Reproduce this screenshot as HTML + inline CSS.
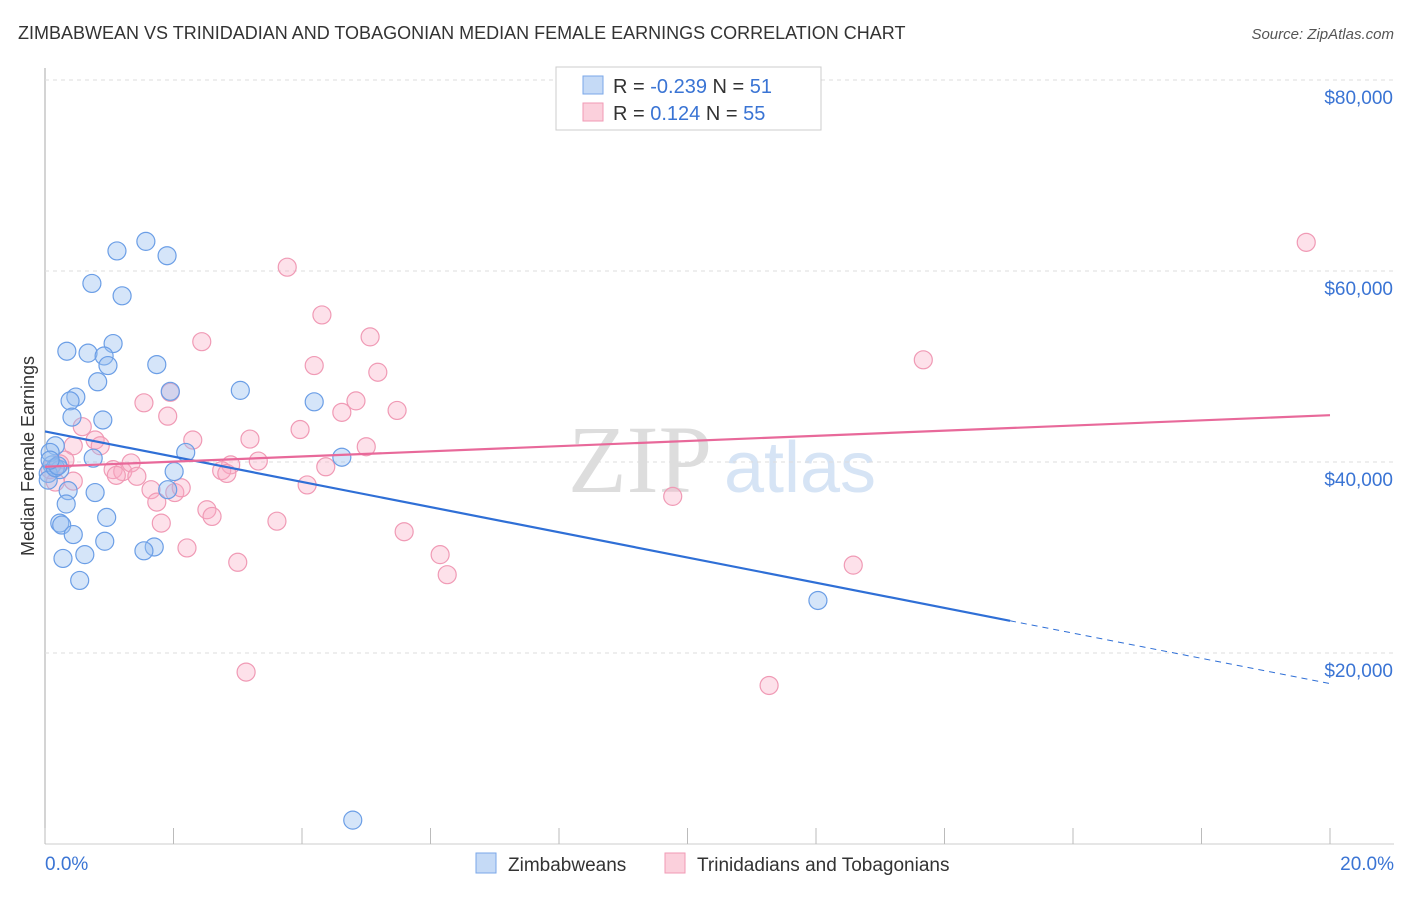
<!DOCTYPE html>
<html><head><meta charset="utf-8"><style>
body{margin:0;background:#fff;font-family:"Liberation Sans",sans-serif}
</style></head><body>
<svg id="c" width="1406" height="892" xmlns="http://www.w3.org/2000/svg" style="font-family:'Liberation Sans',sans-serif">
<text x="18" y="39" font-size="18" fill="#333">ZIMBABWEAN VS TRINIDADIAN AND TOBAGONIAN MEDIAN FEMALE EARNINGS CORRELATION CHART</text>
<text x="1394" y="39" font-size="15" fill="#555" font-style="italic" text-anchor="end">Source: ZipAtlas.com</text>
<text x="34" y="456" font-size="18" fill="#333" text-anchor="middle" transform="rotate(-90 34 456)">Median Female Earnings</text>
<g><text x="640" y="492" font-size="96" fill="#ddd" font-family="Liberation Serif" text-anchor="middle">ZIP</text><text x="800" y="492" font-size="72" fill="#d6e4f5" text-anchor="middle">atlas</text></g>
<g id="grid"></g><g id="marks"></g>
<g>
<rect x="556" y="67" width="265" height="63" fill="#fff" stroke="#ccc"/>
<rect x="583" y="76" width="20" height="18" fill="#c5daf6" stroke="#7aa7e8"/>
<rect x="583" y="103" width="20" height="18" fill="#fbd0dc" stroke="#f09ab5"/>
<text x="613" y="93" font-size="20" fill="#333">R = <tspan fill="#3a74d4">-0.239</tspan>   N = <tspan fill="#3a74d4"> 51</tspan></text>
<text x="613" y="120" font-size="20" fill="#333">R =   <tspan fill="#3a74d4">0.124</tspan>   N = <tspan fill="#3a74d4">55</tspan></text>
</g>
<g>
<rect x="476" y="853" width="20" height="20" fill="#c5daf6" stroke="#7aa7e8"/>
<text x="508" y="871" font-size="19" fill="#333">Zimbabweans</text>
<rect x="665" y="853" width="20" height="20" fill="#fbd0dc" stroke="#f09ab5"/>
<text x="697" y="871" font-size="19" fill="#333">Trinidadians and Tobagonians</text>
</g>
<text x="45" y="870" font-size="19" fill="#3a74d4">0.0%</text>
<text x="1394" y="870" font-size="19" fill="#3a74d4" text-anchor="end">20.0%</text>
</svg>
<script>
const yTicks=[20000,40000,60000,80000];
const yTickLabels=["$20,000","$40,000","$60,000","$80,000"];
const blueX=[1.57,1.12,1.90,0.73,1.20,0.34,0.67,1.06,0.92,0.98,1.74,0.82,1.95,3.04,0.48,0.39,0.42,0.90,4.19,2.19,0.75,4.62,0.16,0.11,0.23,0.05,2.01,1.91,0.78,0.36,0.33,0.96,0.23,0.26,0.44,0.93,1.70,1.54,0.62,0.28,0.54,12.03,4.79,0.08,0.05,0.16,0.2,0.08];
const blueY=[63.1,62.1,61.6,58.7,57.4,51.6,51.4,52.4,51.1,50.1,50.2,48.4,47.4,47.5,46.8,46.4,44.7,44.4,46.3,41.0,40.4,40.5,41.7,39.7,39.2,38.8,39.0,37.1,36.8,37.0,35.6,34.2,33.6,33.4,32.4,31.7,31.1,30.7,30.3,29.9,27.6,25.5,2.5,41.0,38.1,39.4,39.6,40.2];
const pinkX=[19.63,3.77,4.31,5.06,13.67,2.44,4.19,5.18,1.95,1.54,4.84,5.48,4.62,1.91,3.97,0.58,0.78,2.30,3.19,5.0,0.44,0.31,3.32,4.37,2.89,2.75,2.83,1.06,1.21,1.34,1.11,1.43,0.16,0.44,4.08,1.65,2.02,2.12,9.77,1.74,2.52,2.6,1.81,3.61,5.59,2.21,6.15,3.0,12.58,6.26,3.13,11.27,0.86,0.08,0.23];
const pinkY=[63.0,60.4,55.4,53.1,50.7,52.6,50.1,49.4,47.3,46.2,46.4,45.4,45.2,44.8,43.4,43.7,42.3,42.3,42.4,41.6,41.7,40.2,40.1,39.5,39.7,39.1,38.8,39.2,39.0,39.9,38.6,38.5,37.9,38.0,37.6,37.1,36.8,37.3,36.4,35.8,35.0,34.3,33.6,33.8,32.7,31.0,30.3,29.5,29.2,28.2,18.0,16.6,41.7,39.2,39.8];
const blueTrend=[43.2,16.8], blueSolidEnd=15.02;
const pinkTrend=[39.5,44.9];
const NS="http://www.w3.org/2000/svg";
const sx=v=>45+v/20*1285, sy=v=>844-v*1000/20000*191;
function mk(t,a,p){const e=document.createElementNS(NS,t);for(const k in a)e.setAttribute(k,a[k]);p.appendChild(e);return e;}
const g=document.getElementById('grid'), m=document.getElementById('marks');
let ax=mk('line',{x1:45,y1:68,x2:45,y2:844,stroke:'#aaa'},g);


let bx=mk('line',{x1:45,y1:844,x2:1394,y2:844,stroke:'#ccc'},g);


for(let i=0;i<=10;i++){const x=sx(i*2);const t=mk('line',{x1:x,y1:828,x2:x,y2:844,stroke:'#bbb'},g);

}
yTicks.forEach((v,i)=>{const y=sy(v/1000);const l=mk('line',{x1:45,y1:y,x2:1394,y2:y,stroke:'#ddd','stroke-dasharray':'4 4'},g);


const t=mk('text',{x:1393,y:y+24,'font-size':19,fill:'#3a74d4','text-anchor':'end'},g);t.textContent=yTickLabels[i];

});
pinkX.forEach((x,i)=>{const c=mk('circle',{cx:sx(x),cy:sy(pinkY[i]),r:9,fill:'rgba(248,170,195,0.35)',stroke:'#f09ab5','stroke-width':1.2},m);

});
blueX.forEach((x,i)=>{const c=mk('circle',{cx:sx(x),cy:sy(blueY[i]),r:9,fill:'rgba(150,190,240,0.4)',stroke:'#6b9ee6','stroke-width':1.2},m);

});
const bAt=x=>blueTrend[0]+(blueTrend[1]-blueTrend[0])*x/20;
let l1=mk('line',{x1:sx(0),y1:sy(bAt(0)),x2:sx(blueSolidEnd),y2:sy(bAt(blueSolidEnd)),stroke:'#2f6fd6','stroke-width':2.2},m);


let l2=mk('line',{x1:sx(blueSolidEnd),y1:sy(bAt(blueSolidEnd)),x2:sx(20),y2:sy(bAt(20)),stroke:'#2f6fd6','stroke-width':1,'stroke-dasharray':'6 5'},m);


let l3=mk('line',{x1:sx(0),y1:sy(pinkTrend[0]),x2:sx(20),y2:sy(pinkTrend[1]),stroke:'#e8699a','stroke-width':2.2},m);


</script>
</body></html>
